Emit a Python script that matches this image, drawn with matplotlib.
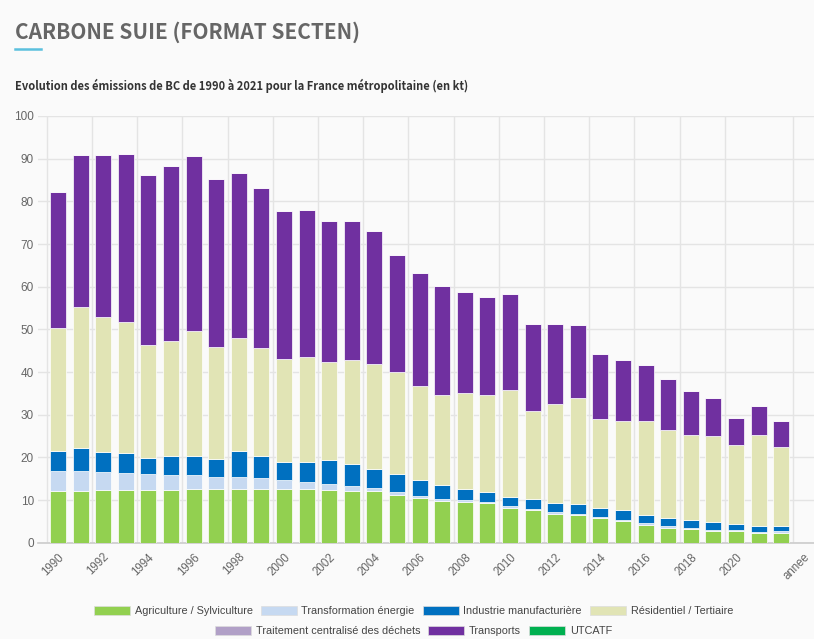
import matplotlib
matplotlib.use("Agg")
import matplotlib.pyplot as plt
from matplotlib.patches import Patch
import numpy as np

# categories (33 bars) + one empty slot for the "annee" label
annees = ["1990", "1991", "1992", "1993", "1994", "1995", "1996", "1997", "1998",
          "1999", "2000", "2001", "2002", "2003", "2004", "2005", "2006", "2007",
          "2008", "2009", "2010", "2011", "2012", "2013", "2014", "2015", "2016",
          "2017", "2018", "2019", "2020", "2021", "2022"]

agriculture = [12.1, 12.2, 12.4, 12.4, 12.4, 12.4, 12.5, 12.5, 12.5, 12.7, 12.6,
               12.5, 12.4, 12.1, 12.0, 11.2, 10.4, 9.8, 9.5, 9.2, 8.1, 7.7, 6.7,
               6.5, 5.7, 5.1, 4.2, 3.5, 3.1, 2.7, 2.7, 2.3, 2.3]
energie = [4.6, 4.5, 4.1, 3.9, 3.6, 3.5, 3.4, 3.0, 2.8, 2.4, 2.0, 1.7, 1.3, 1.3,
           0.8, 0.6, 0.6, 0.4, 0.4, 0.3, 0.4, 0.3, 0.4, 0.3, 0.4, 0.3, 0.3, 0.3,
           0.4, 0.3, 0.2, 0.3, 0.4]
industrie = [4.8, 5.5, 4.7, 4.8, 3.9, 4.5, 4.5, 4.2, 6.1, 5.2, 4.3, 4.7, 5.7, 5.0,
             4.5, 4.4, 3.6, 3.3, 2.8, 2.3, 2.3, 2.3, 2.2, 2.2, 2.0, 2.2, 2.1, 2.0,
             1.8, 1.8, 1.4, 1.3, 1.3]
residentiel = [28.7, 33.1, 31.7, 30.6, 26.5, 26.8, 29.2, 26.2, 26.5, 25.3, 24.1,
               24.6, 22.9, 24.5, 24.6, 23.9, 22.2, 21.1, 22.3, 22.8, 25.0, 20.5,
               23.1, 24.8, 21.0, 21.0, 21.9, 20.7, 19.9, 20.3, 18.5, 21.4, 18.5]
dechets = [0.0] * 33
transports = [32.1, 35.6, 37.9, 39.5, 39.8, 41.0, 41.1, 39.4, 38.7, 37.5, 34.8,
              34.5, 33.2, 32.4, 31.1, 27.4, 26.4, 25.6, 23.8, 22.9, 22.6, 20.4,
              18.9, 17.2, 15.2, 14.3, 13.1, 11.8, 10.3, 8.9, 6.4, 6.7, 6.1]
utcatf = [0.0] * 33

series = [
    ("Agriculture / Sylviculture", agriculture, "#92d050"),
    ("Transformation énergie", energie, "#c6d9f1"),
    ("Industrie manufacturière", industrie, "#0070c0"),
    ("Résidentiel / Tertiaire", residentiel, "#e1e4b5"),
    ("Traitement centralisé des déchets", dechets, "#b1a0c7"),
    ("Transports", transports, "#7030a0"),
    ("UTCATF", utcatf, "#00b050"),
]

BG = "#fafafa"
plt.rcParams["font.family"] = ["Liberation Sans", "DejaVu Sans"]
TITLE_FONT = ["Noto Sans CJK SC", "DejaVu Sans"]  # latin glyphs = Source Sans

fig = plt.figure(figsize=(8.14, 6.39), dpi=100, facecolor=BG)
ax = fig.add_axes([38 / 814, 96.3 / 639, 1 - 38 / 814, (542.7 - 116) / 639])
ax.set_facecolor(BG)

x = np.arange(len(annees))
bottom = np.zeros(len(annees))
for nom, vals, col in series:
    vals = np.array(vals)
    ax.bar(x, vals, width=0.71, bottom=bottom, color=col,
           edgecolor="#ffffff", linewidth=0.5, zorder=3)
    bottom += vals

ax.set_ylim(0, 100)
ax.set_xlim(-0.885, 33.45)
ax.set_yticks(range(0, 101, 10))
ax.yaxis.grid(True, color="#e4e4e4", linewidth=1, zorder=0)
for b in list(np.arange(-0.5, 30, 2)) + [32.5]:
    ax.axvline(b, color="#e4e4e4", linewidth=1, zorder=0)

tick_pos = list(range(0, 31, 2)) + [33]
tick_lab = [annees[i] for i in range(0, 31, 2)] + ["annee"]
ax.set_xticks(tick_pos)
ax.set_xticklabels(tick_lab, rotation=45, ha="right", va="top",
                   rotation_mode="anchor", fontsize=8.3, color="#666666")
ax.tick_params(axis="x", length=0, pad=6)
ax.tick_params(axis="y", length=0, pad=3, labelsize=8.5, labelcolor="#666666")

for s in ["top", "right", "left"]:
    ax.spines[s].set_visible(False)
ax.spines["bottom"].set_color("#cccccc")
ax.spines["bottom"].set_linewidth(1.2)

# titles
fig.text(15 / 814, 1 - 32 / 639, "CARBONE SUIE (FORMAT SECTEN)", fontsize=15,
         fontweight="bold", color="#666666", va="center", ha="left",
         family=TITLE_FONT)
fig.add_artist(plt.Line2D([15 / 814, 41 / 814], [1 - 49 / 639, 1 - 49 / 639],
                          color="#5bc0de", linewidth=1.8))
fig.text(15 / 814, 1 - 86 / 639,
         "Evolution des émissions de BC de 1990 à 2021 pour la France métropolitaine (en kt)",
         fontsize=8.0, fontweight="bold", color="#333333", va="center", ha="left",
         family=TITLE_FONT)

# legend in two centred rows
handles = [Patch(facecolor=c, edgecolor="#dddddd", linewidth=0.5) for _, _, c in series]
labels = [n for n, _, _ in series]
kw = dict(frameon=False, fontsize=7.8, handlelength=3.3, handleheight=1.0,
          handletextpad=0.45, columnspacing=0.75, labelcolor="#444444")
fig.legend(handles[:4], labels[:4], ncol=4, loc="center",
           bbox_to_anchor=(0.508, 1 - 611 / 639), **kw)
fig.legend(handles[4:], labels[4:], ncol=3, loc="center",
           bbox_to_anchor=(0.508, 1 - 631 / 639), **kw)

fig.savefig("out.png", dpi=100, facecolor=BG)
